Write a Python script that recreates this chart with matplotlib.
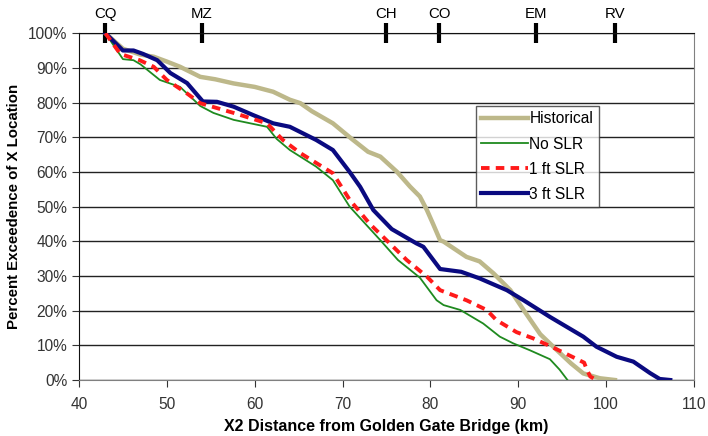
import numpy as np
import matplotlib.pyplot as plt

plt.rcParams['font.family'] = ['Liberation Sans', 'DejaVu Sans']

# --- data ---
hist_x = [43, 45, 47, 48.5, 50, 51.5, 53.8, 55.5, 57.6, 60, 62.1, 64, 65.2, 66.5,
          68.9, 71, 72.9, 74.3, 76.2, 77.7, 78.8, 79.6, 80.3, 81.1, 81.5, 84.1,
          85.6, 87.2, 89.1, 90.6, 92.5, 94.4, 96, 97.4, 99.3, 101]
hist_y = [100, 95.5, 93.8, 93.2, 91.8, 90.3, 87.4, 86.7, 85.5, 84.5, 83.1, 80.8,
          79.8, 77.5, 74, 69.6, 65.8, 64.4, 60, 55.7, 52.9, 49, 45, 40.3, 39.9,
          35.5, 34.2, 30.7, 25.9, 20.2, 13.2, 8.6, 4.8, 1.9, 0.5, 0]

nslr_x = [43, 45, 46.2, 47, 49.2, 51.5, 53.8, 55.3, 57.6, 61.4, 62.5, 64, 67,
          68.9, 70.8, 74.3, 76.3, 78.8, 80.7, 81.5, 83.4, 86, 87.9, 89.4, 91.3,
          93.6, 94.7, 95.6]
nslr_y = [100, 92.5, 92.2, 91, 86.5, 84.5, 79, 77, 75, 73, 69.5, 66.3, 61.5,
          57.6, 50, 40.3, 34.6, 29.5, 23, 21.6, 20.2, 16.3, 12.5, 10.6, 8.6, 6,
          3, 0]

slr1_x = [43, 44.7, 46.9, 48.5, 50, 52.3, 53.8, 57.6, 61.4, 63.2, 65.2, 68.9,
          70.8, 73.1, 74.6, 77.3, 79.6, 81.1, 84.1, 86.4, 87.5, 89.8, 91.7, 93.6,
          96.3, 97.5, 97.8, 98.2, 98.9]
slr1_y = [100, 94, 92.2, 90.3, 86.5, 82.6, 79.8, 77, 74, 69.2, 65.4, 59.6, 52,
          45, 41.3, 34.6, 29.8, 25.9, 23, 20.2, 17.3, 13.8, 12, 9.8, 6.5, 5, 3,
          1, 0]

slr3_x = [43, 45, 46.2, 47.3, 48.9, 50.4, 52.3, 54.1, 55.7, 57.6, 59.8, 62.1,
          64, 67, 68.9, 70.8, 72, 73.5, 75.6, 78.4, 79.2, 81.1, 83.5, 85.6, 88.7,
          90.6, 93.6, 97.4, 98.9, 101.2, 103.1, 105, 106.1, 107.3]
slr3_y = [100, 95, 95, 94, 92.2, 88.5, 85.6, 80.3, 80.2, 78.8, 76.4, 74, 73,
          69.2, 66.3, 60, 55.7, 49, 43.5, 39.4, 38.4, 32, 31.2, 29.3, 25.9, 23,
          18.2, 12.5, 9.6, 6.7, 5.3, 2, 0.3, 0]

station_names = ['CQ', 'MZ', 'CH', 'CO', 'EM', 'RV']
station_km = [43, 54, 75, 81, 92, 101]

fig = plt.figure(figsize=(7.08, 4.36), dpi=100)
ax = fig.add_axes([0.1116, 0.1284, 0.8686, 0.7956])

ax.plot(hist_x, hist_y, color='#bdb88a', lw=3.2, label='Historical', zorder=2)
ax.plot(nslr_x, nslr_y, color='#1f8a1f', lw=1.3, label='No SLR', zorder=3)
ax.plot(slr1_x, slr1_y, color='#ff1a1a', lw=2.8, dashes=(2.2, 1.6), label='1 ft SLR', zorder=4)
ax.plot(slr3_x, slr3_y, color='#0a0a80', lw=3.0, label='3 ft SLR', zorder=3)

ax.set_xlim(40, 110)
ax.set_ylim(0, 100)
ax.set_xticks(np.arange(40, 111, 10))
ax.set_yticks(np.arange(0, 101, 10))
ax.set_yticklabels([f'{v}%' for v in range(0, 101, 10)])
ax.yaxis.grid(True, color='#222222', lw=1)
ax.set_axisbelow(True)
ax.tick_params(axis='both', direction='out', labelsize=11.2, colors='#333333', length=5)
ax.tick_params(axis='x', pad=7)

for side in ['left', 'top']:
    ax.spines[side].set_color('#111111')
for side in ['bottom', 'right']:
    ax.spines[side].set_color('#808080')

ax.set_xlabel('X2 Distance from Golden Gate Bridge (km)', fontsize=11.5, fontweight='bold', labelpad=5)
ax.set_ylabel('Percent Exceedence of X Location', fontsize=10.8, fontweight='bold', labelpad=5)

# station markers along the top
top = ax.secondary_xaxis('top')
top.set_xticks(station_km)
top.set_xticklabels(station_names)
top.tick_params(direction='inout', length=15, width=3, color='black', labelsize=10.8, pad=1)
top.spines['top'].set_visible(False)

leg = ax.legend(loc='upper left', bbox_to_anchor=(0.645, 0.79), frameon=True, fancybox=False,
                edgecolor='#333333', fontsize=11.2, handlelength=3, handletextpad=0.1,
                borderpad=0.35, labelspacing=0.65, borderaxespad=0)
leg.get_frame().set_linewidth(1)

fig.savefig('out.png', dpi=100)
